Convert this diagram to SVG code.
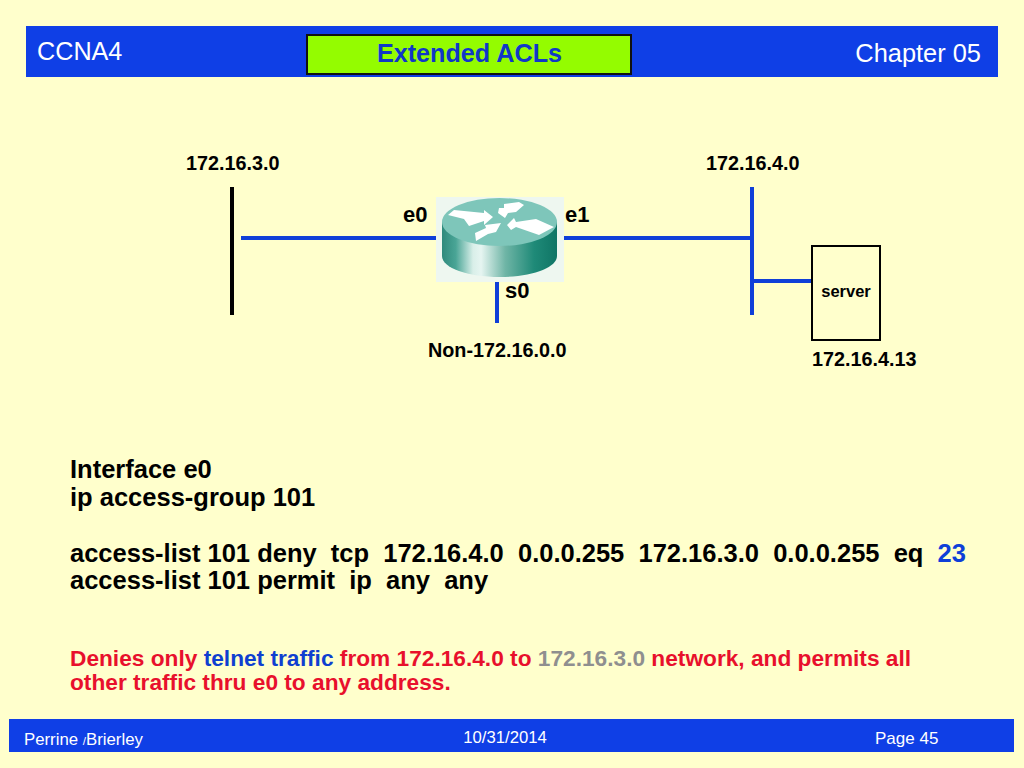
<svg xmlns="http://www.w3.org/2000/svg" width="1024" height="768" viewBox="0 0 1024 768">
<style>
text{font-family:"Liberation Sans",Arial,sans-serif}
.b{font-weight:bold}
.k{fill:#000}
.w{fill:#fff}
.r{fill:#e8102c}
.bl{fill:#0f3fd0}
.g{fill:#8f8f8f}
.lan{stroke:#0f3fd8;stroke-width:4;fill:none}
.m{font-size:19.800px;font-weight:bold}
.c{font-size:25.500px;font-weight:bold}
.d{font-size:22.700px;font-weight:bold}
</style>
<defs>
<linearGradient id="cyl" x1="0" x2="1" y1="0" y2="0">
<stop offset="0" stop-color="#2f8a7c"/>
<stop offset="0.12" stop-color="#4aa596"/>
<stop offset="0.27" stop-color="#d9efe9"/>
<stop offset="0.34" stop-color="#e6f5f1"/>
<stop offset="0.55" stop-color="#6fb5a6"/>
<stop offset="0.8" stop-color="#1f8a78"/>
<stop offset="1" stop-color="#0f7565"/>
</linearGradient>
</defs>
<rect width="1024" height="768" fill="#ffffcc"/>
<g id="header">
<rect x="26" y="26" width="972" height="51" fill="#0f3fe6"/>
<text x="37" y="60" class="w" font-size="25.200">CCNA4</text>
<rect x="307" y="35" width="324" height="39" fill="#94fc00" stroke="#111" stroke-width="2"/>
<text x="469.500" y="62" class="b bl" font-size="25.200" text-anchor="middle" style="fill:#1038c8">Extended ACLs</text>
<text x="981" y="62" class="w" font-size="25.400" text-anchor="end">Chapter 05</text>
</g>
<g id="connectors">
<line x1="232" y1="187" x2="232" y2="315" stroke="#000" stroke-width="4"/>
<line x1="241" y1="238" x2="436" y2="238" class="lan"/>
<line x1="563" y1="238" x2="752" y2="238" class="lan"/>
<line x1="752" y1="187" x2="752" y2="315" class="lan"/>
<line x1="752" y1="281" x2="811" y2="281" class="lan"/>
<line x1="497" y1="282" x2="497" y2="323" class="lan"/>
</g>
<g id="router">
<rect x="436" y="197" width="128" height="85" fill="#eef7f0"/>
<path d="M442 222V256C442 268 468 277 499.500 277C531 277 557 268 557 256V222Z" fill="url(#cyl)"/>
<ellipse cx="499.500" cy="222" rx="57.500" ry="24" fill="#7ec6ba"/>
<g fill="#fff">
<polygon points="448,215 454,210 484,213 484,210 493,217 484,225 484,221 469,226 464,219"/>
<polygon points="499,208 504,208 504,204 519,202 524,205 516,212 508,213 505,218 498,213"/>
<polygon points="507,225 514,218 516,222 536,219 554,227 539,235 516,227 511,230"/>
<polygon points="475,233 486,228 485,225 501,223 496,232 488,234 476,241"/>
</g>
</g>
<g id="server">
<rect x="812" y="246" width="68" height="94" fill="#ffffcc" stroke="#000" stroke-width="2"/>
<text x="846" y="297" class="k b" font-size="16.500" text-anchor="middle">server</text>
</g>
<g id="labels">
<text x="186" y="170" class="m">172.16.3.0</text>
<text x="706" y="170" class="m">172.16.4.0</text>
<text x="403" y="222" class="b" font-size="22">e0</text>
<text x="565" y="222" class="b" font-size="22">e1</text>
<text x="505" y="298" class="b" font-size="22">s0</text>
<text x="428" y="357" class="m">Non-172.16.0.0</text>
<text x="812" y="366" class="m">172.16.4.13</text>
</g>
<g id="config">
<text x="70" y="478" class="c">Interface e0</text>
<text x="70" y="506" class="c">ip access-group 101</text>
<text x="70" y="562" class="c" xml:space="preserve">access-list 101 deny  tcp  172.16.4.0  0.0.0.255  172.16.3.0  0.0.0.255  eq  <tspan style="fill:#0f3fd8">23</tspan></text>
<text x="70" y="589" class="c" xml:space="preserve">access-list 101 permit  ip  any  any</text>
</g>
<g id="description">
<text x="70" y="666" class="d r">Denies only <tspan class="bl">telnet</tspan> <tspan class="bl">traffic</tspan> from 172.16.4.0 to <tspan class="g">172.16.3.0</tspan> network, and permits all</text>
<text x="70" y="690" class="d r">other traffic thru e0 to any address.</text>
</g>
<g id="footer">
<rect x="9" y="719" width="1005" height="33" fill="#0f3fe6"/>
<text x="24" y="745" class="w" font-size="16.800">Perrine <tspan font-size="11.500">/</tspan>Brierley</text>
<text x="505" y="743" class="w" font-size="16.700" text-anchor="middle">10/31/2014</text>
<text x="875" y="744" class="w" font-size="17">Page 45</text>
</g>
</svg>
